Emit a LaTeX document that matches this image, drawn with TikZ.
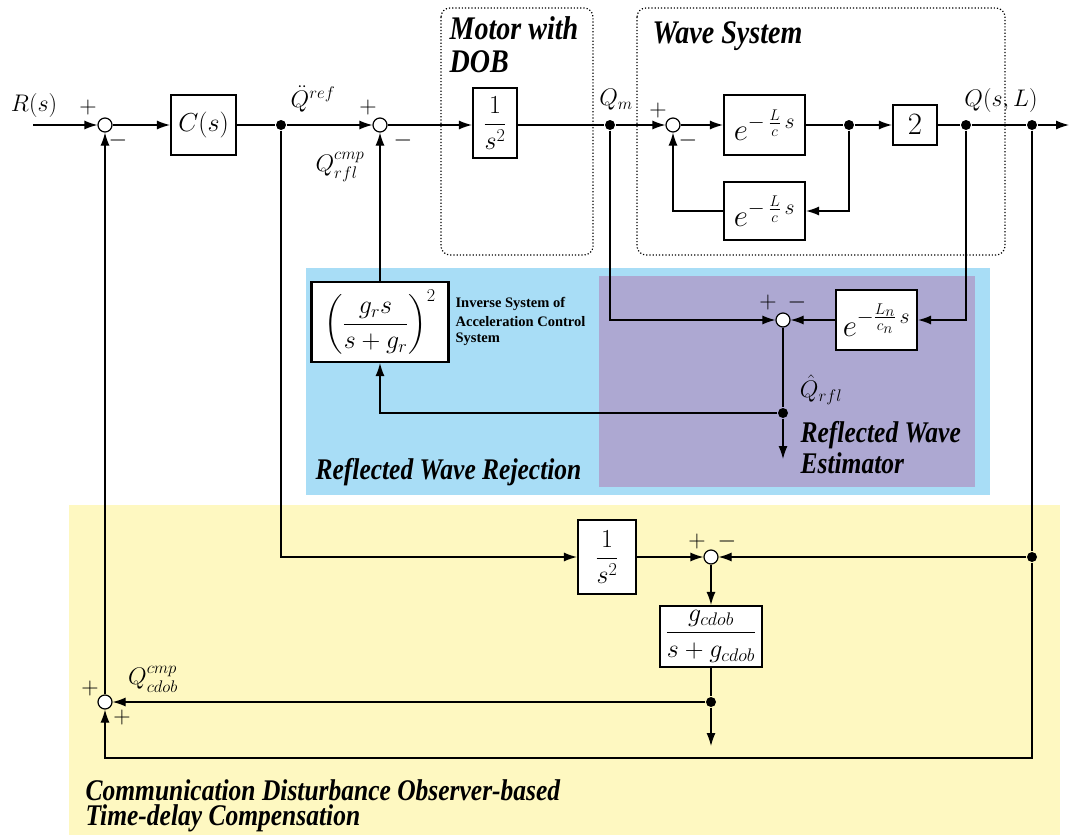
\RequirePackage{fix-cm}
\documentclass[tikz,border=0pt]{standalone}
\usepackage{amsmath}
\usepackage{graphicx}
\usepackage{fontspec}
\setmainfont{Liberation Serif}
\usetikzlibrary{arrows.meta}
\definecolor{cyanbg}{RGB}{168,221,246}
\definecolor{purplebg}{RGB}{173,168,210}
\definecolor{yellowbg}{RGB}{254,248,193}
\newcommand{\ttlA}[1]{{\fontsize{33}{36}\selectfont\bfseries\itshape\scalebox{0.85}[1]{#1}}}
\newcommand{\ttlB}[1]{{\fontsize{30}{33}\selectfont\bfseries\itshape\scalebox{0.85}[1]{#1}}}
\tikzset{
  blk/.style={draw, line width=2.2pt, fill=white, inner sep=2pt, font=\fontsize{26}{30}\selectfont},
  bigf/.style={font=\fontsize{31}{34}\selectfont},
  sumc/.style={draw, line width=1.2pt, circle, fill=white, minimum size=14pt, inner sep=0pt},
  dot/.style={circle, fill=black, minimum size=10pt, inner sep=0pt},
  arr/.style={-{Latex[length=13pt,width=9pt]}},
  sgn/.style={inner sep=0pt, font=\fontsize{24}{26}\selectfont},
  lbl/.style={inner sep=0pt, font=\fontsize{24}{28}\selectfont},
  ttlnode/.style={anchor=west, inner sep=0pt},
  smalltxt/.style={anchor=west, inner sep=0pt, font=\fontsize{14.5}{16}\selectfont\bfseries},
  region/.style={dotted, line width=1.2pt, rounded corners=9pt}
}
\begin{document}
\begin{tikzpicture}[x=1pt,y=-1pt, line width=1.2pt]
\useasboundingbox (0,0) rectangle (1072,838);
% backgrounds
\fill[cyanbg] (306,268) rectangle (990,495);
\fill[purplebg] (599,276) rectangle (975,487);
\fill[yellowbg] (69,505) rectangle (1060,835);
\draw[region] (441,8) rectangle (593,255);
\draw[region] (637,8) rectangle (1005,255);
% titles
\node[ttlnode] (tmot) at (449,28) {\ttlA{Motor with}};
\node[ttlnode] (tdob) at (449,62) {\ttlA{DOB}};
\node[ttlnode] (twave) at (652,36) {\ttlA{Wave System}};
\node[ttlnode] (trej) at (315,472) {\ttlB{Reflected Wave Rejection}};
\node[ttlnode] (test1) at (800,435) {\ttlB{Reflected Wave}};
\node[ttlnode] (test2) at (800,463) {\ttlB{Estimator}};
\node[ttlnode] (tcd1) at (85,790) {\ttlB{Communication Disturbance Observer-based}};
\node[ttlnode] (tcd2) at (85,818) {\ttlB{Time-delay Compensation}};
\node[smalltxt] (tinv1) at (455,304) {Inverse System of};
\node[smalltxt] (tinv2) at (455,322) {Acceleration Control};
\node[smalltxt] (tinv3) at (455,339) {System};
% nodes
\coordinate (in) at (33,125);
\node[sumc] (s1) at (105,125) {};
\node[blk, minimum width=65pt, minimum height=60pt] (C) at (203.5,125) {$C(s)$};
\node[dot] (d1) at (281,125) {};
\node[sumc] (s2) at (380,125) {};
\node[blk, minimum width=44pt, minimum height=70pt] (M) at (495,123) {$\dfrac{1}{s^2}$};
\node[dot] (dQm) at (610,125) {};
\node[sumc] (s3) at (673,125) {};
\node[blk, bigf, minimum width=81pt, minimum height=60pt] (E1) at (764.5,125) {$e^{-\,\frac{L}{c}\,s}$};
\node[dot] (d2) at (849,125) {};
\node[blk, bigf, minimum width=44pt, minimum height=40pt] (K2) at (915,125) {$2$};
\node[dot] (dQL) at (966,125) {};
\node[dot] (dQL2) at (1032,125) {};
\coordinate (out) at (1069,125);
\node[blk, bigf, minimum width=81pt, minimum height=58pt] (E2) at (764.5,211) {$e^{-\,\frac{L}{c}\,s}$};
\node[blk, minimum width=137pt, minimum height=80pt] (Inv) at (380,322) {$\left(\dfrac{g_r s}{s+g_r}\right)^{2}$};
\node[sumc] (s5) at (783,320) {};
\node[blk, bigf, minimum width=81pt, minimum height=60pt] (En) at (876.5,320) {$e^{-\frac{L_n}{c_n}\,s}$};
\node[dot] (dQr) at (783,413) {};
\coordinate (endR) at (783,459);
\node[blk, minimum width=58pt, minimum height=74pt] (B1) at (607,557) {$\dfrac{1}{s^2}$};
\node[sumc] (s6) at (711,557) {};
\node[dot] (dL) at (1032,557) {};
\node[blk, minimum width=102pt, minimum height=61pt] (G) at (711,636.5) {$\dfrac{g_{cdob}}{s+g_{cdob}}$};
\node[dot] (dG) at (711,702) {};
\coordinate (endG) at (711,746);
\node[sumc] (s4) at (105,702) {};
\coordinate (bc) at (1032,758);
% connectors
\draw[arr] (in) -- (s1);
\draw[arr] (s1) -- (C);
\draw (C) -- (d1);
\draw[arr] (d1) -- (s2);
\draw[arr] (s2) -- (s2 -| M.west);
\draw (M.east |- dQm) -- (dQm);
\draw[arr] (dQm) -- (s3);
\draw[arr] (s3) -- (E1);
\draw (E1) -- (d2);
\draw[arr] (d2) -- (K2);
\draw (K2) -- (dQL);
\draw (dQL) -- (dQL2);
\draw[arr] (dQL2) -- (out);
\draw[arr] (d2) |- (E2);
\draw[arr] (E2) -| (s3);
\draw[arr] (dQm) |- (s5);
\draw[arr] (dQL) |- (En);
\draw[arr] (En) -- (s5);
\draw (s5) -- (dQr);
\draw[arr] (dQr) -- (endR);
\draw[arr] (dQr) -| (Inv);
\draw[arr] (Inv) -- (s2);
\draw[arr] (d1) |- (B1);
\draw[arr] (B1) -- (s6);
\draw (dQL2) -- (dL);
\draw[arr] (dL) -- (s6);
\draw[arr] (s6) -- (G);
\draw (G) -- (dG);
\draw[arr] (dG) -- (endG);
\draw[arr] (dG) -- (s4);
\draw[arr] (dL) -- (bc) -| (s4);
\draw[arr] (s4) -- (s1);
% signs
\node[sgn] (p1) at (88,107) {$+$};
\node[sgn] (m1) at (118,140) {$-$};
\node[sgn] (p2) at (368,107) {$+$};
\node[sgn] (m2) at (403,140) {$-$};
\node[sgn] (p3) at (658,110) {$+$};
\node[sgn] (m3) at (688,140) {$-$};
\node[sgn] (p5) at (768,302) {$+$};
\node[sgn] (m5) at (797,302) {$-$};
\node[sgn] (p6) at (697,541) {$+$};
\node[sgn] (m6) at (727,541) {$-$};
\node[sgn] (p4a) at (90,688) {$+$};
\node[sgn] (p4b) at (122,717) {$+$};
% labels
\node[lbl] (lR) at (34,105) {$R(s)$};
\node[lbl] (lQref) at (313,99) {$\ddot{Q}^{ref}$};
\node[lbl] (lQrfl) at (340,167) {$Q^{cmp}_{rfl}$};
\node[lbl] (lQm) at (616,100) {$Q_m$};
\node[lbl] (lQL) at (1001,100) {$Q(s,L)$};
\node[lbl] (lQhat) at (821,390) {$\hat{Q}_{rfl}$};
\node[lbl] (lQcdob) at (153,679) {$Q^{cmp}_{cdob}$};
\end{tikzpicture}
\end{document}
